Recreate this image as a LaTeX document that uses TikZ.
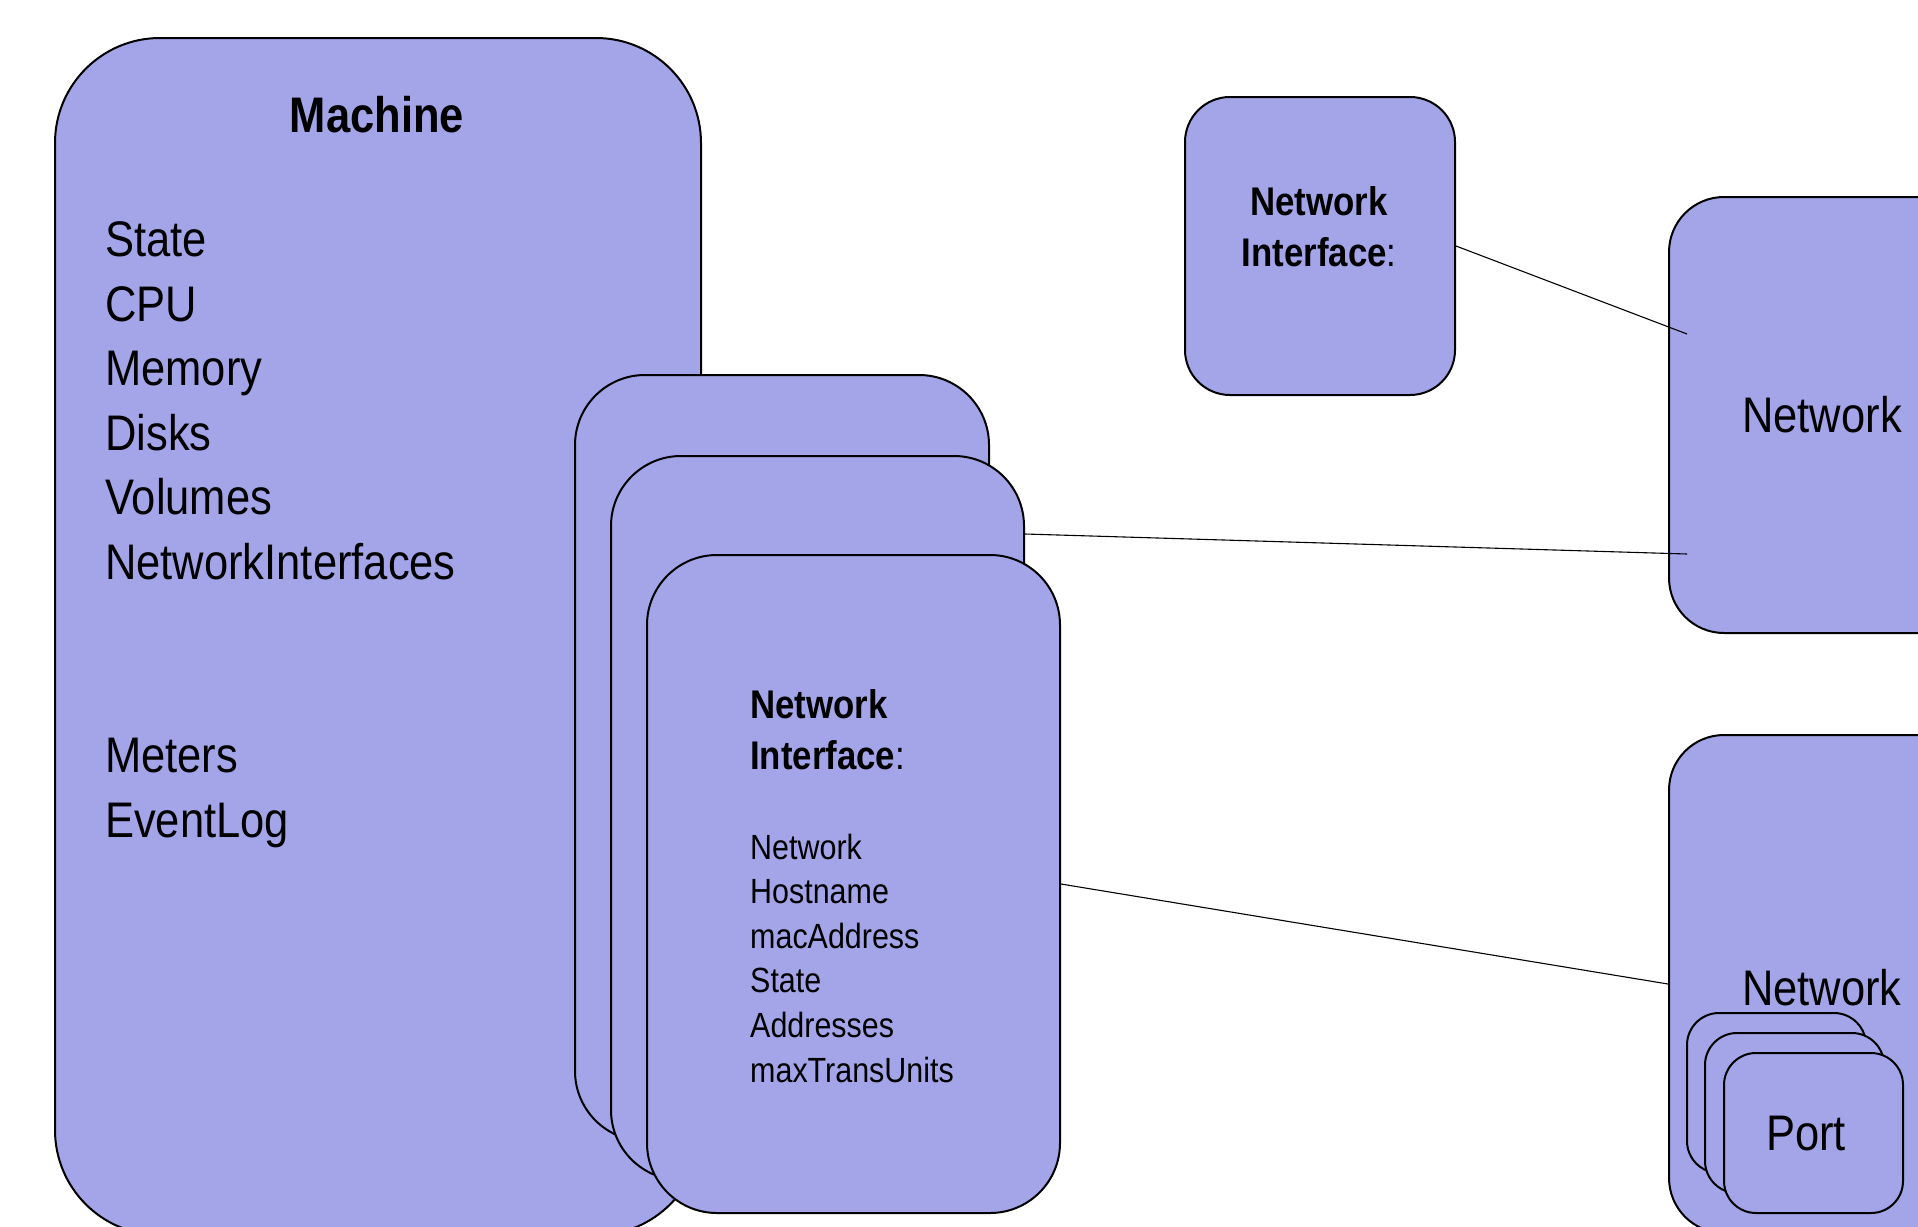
\documentclass[tikz,border=0pt]{standalone}
\usepackage{fontspec}
\setmainfont[FakeStretch=0.87]{Liberation Sans}
\usepackage{xcolor}
\definecolor{boxblue}{RGB}{164,165,232}
\usepackage{tikz}
\usetikzlibrary{positioning,calc}
\newcommand{\bodyfont}{\fontsize{50}{64.5}\selectfont}
\newcommand{\listfont}{\fontsize{35}{44.6}\selectfont}
\newcommand{\headfont}{\fontsize{40}{50.5}\selectfont\bfseries}
\tikzset{
  box/.style={draw=black, fill=boxblue, line width=2pt, inner sep=0pt, anchor=north west},
  link/.style={draw=black, line width=1.1pt},
  txt/.style={inner sep=0pt, anchor=base west, align=left}
}

\begin{document}
\begin{tikzpicture}[x=1pt,y=-1pt]

\useasboundingbox (0,0) rectangle (1918,1226);
\clip (0,0) rectangle (1918,1226);

% machine
\node[box, rounded corners=105pt, minimum width=646pt, minimum height=1197pt] (machine) at (54,37) {};
\node[font=\bodyfont\bfseries, inner sep=0pt, anchor=base] (machinetitle) at (377,132) {Machine};
% anchor is the baseline of the last line
\node[txt, font=\bodyfont] (machinelist) at (105,837) {State\\CPU\\Memory\\Disks\\Volumes\\NetworkInterfaces\\[129pt]Meters\\EventLog};

% stacked network interfaces
\node[box, rounded corners=70pt, minimum width=414pt, minimum height=766pt] (nia) at (574,374) {};
\node[box, rounded corners=70pt, minimum width=413pt, minimum height=724pt] (nib) at (610,455) {};
\node[box, rounded corners=70pt, minimum width=413pt, minimum height=658pt] (nic) at (646,554) {};
\node[txt, font=\headfont] (nictitle) at (750,769) {Network\\Interface{\mdseries:}};
\node[txt, font=\listfont] (niclist) at (750,1082) {Network\\Hostname\\macAddress\\State\\Addresses\\maxTransUnits};

% single network interface
\node[box, rounded corners=45pt, minimum width=270pt, minimum height=298pt] (nitop) at (1184,96) {};
\node[font=\headfont, inner sep=0pt, anchor=base, align=center] (nitoptitle) at (1319,266) {Network\\Interface{\mdseries:}};

% networks
\node[box, rounded corners=55pt, minimum width=306pt, minimum height=436pt, font=\bodyfont] (neta) at (1668,196) {Network};
\node[box, rounded corners=55pt, minimum width=306pt, minimum height=498pt] (netb) at (1668,734) {};
\node[txt, font=\bodyfont] (netbtitle) at (1742,1005) {Network};

% ports
\node[box, rounded corners=32pt, minimum width=179pt, minimum height=160pt] (porta) at (1686,1012) {};
\node[box, rounded corners=32pt, minimum width=179pt, minimum height=160pt] (portb) at (1704,1032) {};
\node[box, rounded corners=32pt, minimum width=179pt, minimum height=160pt] (portc) at (1723,1052) {};
\node[font=\bodyfont, inner sep=0pt, anchor=base] (porttitle) at (1806,1150) {Port};

% links
\coordinate (netaup) at (1687,334);
\coordinate (netalow) at (1687,554);
\draw[link] (nitop.east) -- (netaup);
\draw[link] ([yshift=-79pt]nib.north east) -- (netalow);
\draw[link] (nic.east) -- (netb.west);

\end{tikzpicture}
\end{document}
